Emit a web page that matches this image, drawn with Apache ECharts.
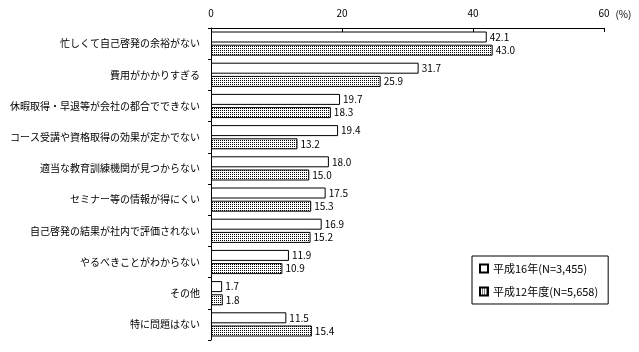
<!DOCTYPE html>
<html>
<head>
<meta charset="utf-8">
<script src="https://cdn.jsdelivr.net/npm/echarts@6/dist/echarts.min.js"></script>
<style>
  html, body {margin:0; padding:0; background:#fff;}
  #chart {width:639px; height:352px;}
</style>
</head>
<body>
<div id="chart"></div>
<script>
var categories = ['忙しくて自己啓発の余裕がない', '費用がかかりすぎる', '休暇取得・早退等が会社の都合でできない',
  'コース受講や資格取得の効果が定かでない', '適当な教育訓練機関が見つからない', 'セミナー等の情報が得にくい',
  '自己啓発の結果が社内で評価されない', 'やるべきことがわからない', 'その他', '特に問題はない'];
var h16 = [42.1, 31.7, 19.7, 19.4, 18.0, 17.5, 16.9, 11.9, 1.7, 11.5];
var h12 = [43.0, 25.9, 18.3, 13.2, 15.0, 15.3, 15.2, 10.9, 1.8, 15.4];
var xTicks = [0, 20, 40, 60];

// dotted fill like the original
var pat = document.createElement('canvas');
pat.width = 2; pat.height = 2;
var ctx = pat.getContext('2d');
ctx.fillStyle = '#fff';
ctx.fillRect(0, 0, 2, 2);
ctx.fillStyle = '#000';
ctx.fillRect(0, 0, 1, 1);

var font = '"Noto Sans CJK JP", sans-serif';

var option = {
  animation: false,
  textStyle: {fontFamily: font, color: '#000'},
  legend: {
    orient: 'vertical',
    left: 472,
    top: 256,
    padding: [7, 10, 7, 7],
    borderColor: '#000',
    borderWidth: 1,
    icon: 'rect',
    itemWidth: 8,
    itemHeight: 8,
    itemGap: 12,
    textStyle: {fontSize: 11, color: '#000', fontFamily: font},
    data: ['平成16年(N=3,455)', '平成12年度(N=5,658)']
  },
  grid: {left: 211, right: 35, top: 24, bottom: 12},
  xAxis: {
    type: 'value',
    position: 'top',
    min: 0,
    max: 60,
    interval: 20,
    name: '(%)',
    nameLocation: 'end',
    nameGap: 8,
    nameTextStyle: {fontSize: 10, color: '#000', verticalAlign: 'bottom', lineHeight: 28},
    axisLine: {show: true, lineStyle: {color: '#000', width: 1}},
    axisTick: {show: true, inside: true, length: 4, lineStyle: {color: '#000'}},
    axisLabel: {fontSize: 10, color: '#000', margin: 10,
      formatter: function (v) { return xTicks.indexOf(v) >= 0 ? String(v) : ''; }},
    splitLine: {show: false}
  },
  yAxis: {
    type: 'category',
    inverse: true,
    data: categories,
    axisLine: {show: true, lineStyle: {color: '#000', width: 1}},
    axisTick: {show: true, length: 3, lineStyle: {color: '#000'}},
    axisLabel: {fontSize: 10, color: '#000', margin: 11}
  },
  series: [{
    name: '平成16年(N=3,455)',
    type: 'bar',
    data: h16,
    barWidth: 11,
    barGap: '20%',
    itemStyle: {color: '#fff', borderColor: '#000', borderWidth: 1},
    label: {show: true, position: 'right', distance: 3, fontSize: 10, color: '#000',
      formatter: function (p) { return p.value.toFixed(1); }}
  }, {
    name: '平成12年度(N=5,658)',
    type: 'bar',
    data: h12,
    barWidth: 11,
    barGap: '20%',
    itemStyle: {color: {image: pat, repeat: 'repeat'}, borderColor: '#000', borderWidth: 1},
    label: {show: true, position: 'right', distance: 3, fontSize: 10, color: '#000',
      formatter: function (p) { return p.value.toFixed(1); }}
  }]
};

var myChart = echarts.init(document.getElementById('chart'));
myChart.setOption(option);
</script>
</body>
</html>
